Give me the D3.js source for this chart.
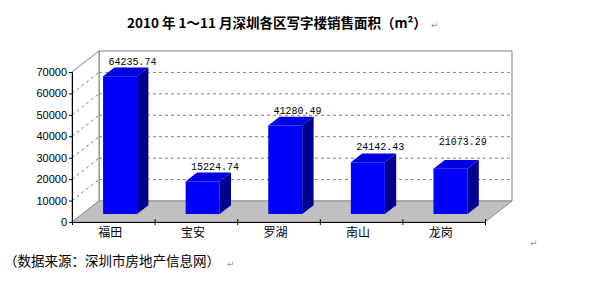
<!DOCTYPE html>
<html>
<head>
<meta charset="utf-8">
<script src="https://cdn.jsdelivr.net/npm/d3@7"></script>
<style>
  body { margin: 0; background: #fff; }
  svg { display: block; }
</style>
</head>
<body>
<div id="chart"></div>
<script>
'use strict';

// data
const districts = ['福田', '宝安', '罗湖', '南山', '龙岗'];
const areas = [64235.74, 15224.74, 41280.49, 24142.43, 21073.29];
const yTicks = [0, 10000, 20000, 30000, 40000, 50000, 60000, 70000];
const titleText = '2010 年 1～11 月深圳各区写字楼销售面积（m²）';
const sourceText = '（数据来源：深圳市房地产信息网）';

const W = 604;
const H = 283;

// 3d depth of the plot box and of the bars
const DX = 27;
const DY = 21;
const barFront = 0.38;
const barBack = 0.8;
const barW = 34;
const shiftX = -3.5;
// the last label sits higher in the original
const labelLift = [0, 0, 0, 0, 12];

const svg = d3
  .select('#chart')
  .append('svg')
  .attr('width', W)
  .attr('height', H);

const x = d3.scaleBand().domain(districts).range([72, 485]);
const xi = d3.scaleLinear().domain([0, districts.length]).range([72, 485]);
const y = d3.scaleLinear().domain([0, 70000]).range([222, 72]);

const P = (px, py, f) => [px + DX * f, py - DY * f];
const poly = (pts) => pts.map((p) => p.join(',')).join(' ');

const g = svg.append('g');

// back wall
g.append('polygon')
  .attr('points', poly([
    P(72, y(70000), 1), P(485, y(70000), 1), P(485, y(0), 1), P(72, y(0), 1),
  ]))
  .attr('fill', '#fff')
  .attr('stroke', '#808080');

// side wall
g.append('polygon')
  .attr('points', poly([
    P(72, y(70000), 0), P(72, y(70000), 1), P(72, y(0), 1), P(72, y(0), 0),
  ]))
  .attr('fill', '#fff')
  .attr('stroke', '#808080');

// grid lines
const grid = yTicks.filter((t) => t > 0 && t < 70000);
g.selectAll('.gback')
  .data(grid)
  .enter()
  .append('line')
  .attr('x1', (d) => P(72, y(d), 1)[0])
  .attr('y1', (d) => P(72, y(d), 1)[1])
  .attr('x2', (d) => P(485, y(d), 1)[0])
  .attr('y2', (d) => P(485, y(d), 1)[1])
  .attr('stroke', '#808080')
  .attr('stroke-dasharray', '3,3');

g.selectAll('.gside')
  .data(grid)
  .enter()
  .append('line')
  .attr('x1', 72)
  .attr('y1', (d) => y(d))
  .attr('x2', (d) => P(72, y(d), 1)[0])
  .attr('y2', (d) => P(72, y(d), 1)[1])
  .attr('stroke', '#808080')
  .attr('stroke-dasharray', '3,3');

// floor
g.append('polygon')
  .attr('points', poly([
    P(72, y(0), 0), P(485, y(0), 0), P(485, y(0), 1), P(72, y(0), 1),
  ]))
  .attr('fill', '#c0c0c0')
  .attr('stroke', '#909090');

// bars
const bars = g
  .selectAll('.bar')
  .data(districts)
  .enter()
  .append('g')
  .attr('class', 'bar');

const geo = (d, i) => {
  const cx = x(d) + x.bandwidth() / 2 + shiftX;
  const l = cx - barW / 2;
  const r = cx + barW / 2;
  const t = y(areas[i]);
  const b = y(0);
  return { l, r, t, b };
};

bars.append('polygon')
  .attr('points', (d, i) => {
    const o = geo(d, i);
    return poly([
      P(o.l, o.t, barFront), P(o.r, o.t, barFront),
      P(o.r, o.b, barFront), P(o.l, o.b, barFront),
    ]);
  })
  .attr('fill', '#0000ff');

bars.append('polygon')
  .attr('points', (d, i) => {
    const o = geo(d, i);
    return poly([
      P(o.r, o.t, barFront), P(o.r, o.t, barBack),
      P(o.r, o.b, barBack), P(o.r, o.b, barFront),
    ]);
  })
  .attr('fill', '#000090');

bars.append('polygon')
  .attr('points', (d, i) => {
    const o = geo(d, i);
    return poly([
      P(o.l, o.t, barFront), P(o.l, o.t, barBack),
      P(o.r, o.t, barBack), P(o.r, o.t, barFront),
    ]);
  })
  .attr('fill', '#0000e0');

// value labels
bars.append('text')
  .attr('x', (d, i) => {
    const o = geo(d, i);
    return P((o.l + o.r) / 2, o.t, barBack)[0] + 1;
  })
  .attr('y', (d, i) => {
    const o = geo(d, i);
    return P(o.l, o.t, barBack)[1] - 3 - labelLift[i];
  })
  .attr('text-anchor', 'middle')
  .attr('font-family', 'Liberation Mono, monospace')
  .attr('font-size', 10)
  .attr('fill', '#000')
  .text((d, i) => areas[i].toFixed(2));

// y axis
const yAxis = d3
  .axisLeft(y)
  .tickValues(yTicks)
  .tickSize(3)
  .tickPadding(2)
  .tickFormat(d3.format('d'));

svg.append('g')
  .attr('transform', 'translate(72,0)')
  .call(yAxis)
  .call((a) => a.selectAll('text')
    .attr('font-family', 'Liberation Sans, Arial, sans-serif')
    .attr('font-size', 11)
    .attr('fill', '#000'))
  .call((a) => a.selectAll('line, path').attr('stroke', '#000'));

// x axis
const xAxis = d3
  .axisBottom(xi)
  .tickValues(d3.range(districts.length + 1))
  .tickSize(3)
  .tickSizeOuter(0)
  .tickFormat('');

svg.append('g')
  .attr('transform', 'translate(0,' + y(0) + ')')
  .call(xAxis)
  .call((a) => a.selectAll('line, path').attr('stroke', '#000'))
  .call((a) => a.selectAll('.tick line').attr('y1', -3));

svg.append('g')
  .selectAll('text')
  .data(districts)
  .enter()
  .append('text')
  .attr('x', (d) => x(d) + x.bandwidth() / 2 - 3)
  .attr('y', 237)
  .attr('text-anchor', 'middle')
  .attr('font-family', 'Noto Sans CJK SC, sans-serif')
  .attr('font-size', 12)
  .text((d) => d);

// title
svg.append('text')
  .attr('x', 127)
  .attr('y', 28)
  .attr('font-family', 'Noto Sans CJK SC, sans-serif')
  .attr('font-weight', 'bold')
  .attr('font-size', 13.5)
  .text(titleText);

// source
svg.append('text')
  .attr('x', 4)
  .attr('y', 266)
  .attr('font-family', 'Noto Sans CJK SC, sans-serif')
  .attr('font-size', 13.5)
  .text(sourceText);

// paragraph marks
const marks = [[431, 28], [530, 246], [227, 267]];
svg.selectAll('.mark')
  .data(marks)
  .enter()
  .append('text')
  .attr('x', (d) => d[0])
  .attr('y', (d) => d[1])
  .attr('font-family', 'DejaVu Sans, sans-serif')
  .attr('font-size', 9)
  .attr('fill', '#999')
  .text('↵');
</script>
</body>
</html>
